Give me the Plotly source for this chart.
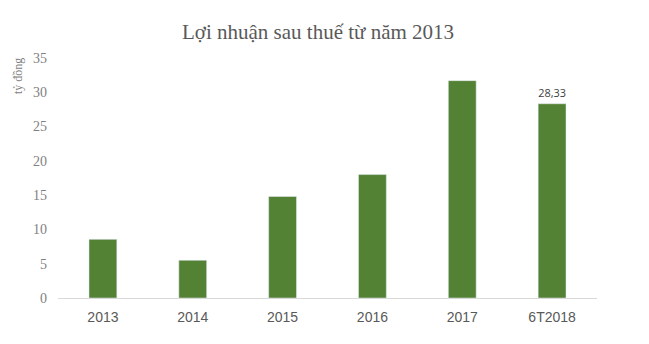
import plotly.graph_objects as go

categories = ["2013", "2014", "2015", "2016", "2017", "6T2018"]
values = [8.55, 5.5, 14.8, 18.0, 31.7, 28.33]
labeled = [False, False, False, False, False, True]
y_ticks = [0, 5, 10, 15, 20, 25, 30, 35]

texts = [(f"{v:.2f}".replace(".", ",") if show else "") for v, show in zip(values, labeled)]

fig = go.Figure(go.Bar(
    x=categories, y=values, marker_color="#548235",
    text=texts, textposition="outside", cliponaxis=False,
    textfont=dict(family="Open Sans, Liberation Sans, sans-serif", size=12.5, color="#404040"),
))

fig.update_layout(
    width=649, height=344,
    margin=dict(l=58, r=52, t=58, b=46),
    paper_bgcolor="white", plot_bgcolor="white",
    bargap=0.69, showlegend=False,
    annotations=[
        dict(text="Lợi nhuận sau thuế từ năm 2013", xref="paper", yref="paper",
             x=(318 - 58) / (649 - 58 - 52), y=1, yshift=26, yanchor="middle", showarrow=False,
             font=dict(family="Liberation Serif, Times New Roman, serif", size=21, color="#595959")),
        dict(text="tỷ đồng", xref="paper", yref="paper", x=0, xshift=-40, y=1, yshift=-18,
             textangle=-90, showarrow=False, xanchor="center", yanchor="middle",
             font=dict(family="Liberation Serif, Times New Roman, serif", size=12, color="#7f7f7f")),
    ],
)
fig.update_xaxes(showline=True, linecolor="#d9d9d9", linewidth=1, ticks="",
                 ticklabelstandoff=6,
                 tickfont=dict(family="Liberation Sans, Arial, sans-serif", size=14, color="#595959"),
                 showgrid=False)
fig.update_yaxes(range=[0, 35], tickvals=y_ticks, showgrid=False, zeroline=False, showline=False,
                 ticks="", ticklen=0, ticklabelstandoff=10,
                 tickfont=dict(family="Liberation Serif, Times New Roman, serif", size=14, color="#7f7f7f"))

fig.write_html("out.html")
